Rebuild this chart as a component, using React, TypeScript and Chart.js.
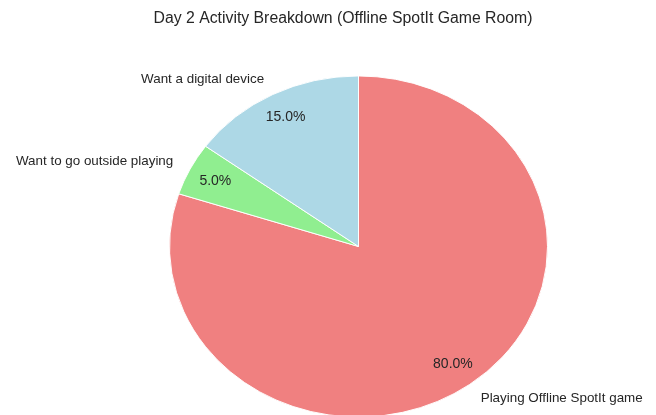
import React, { useEffect, useRef } from "react";
import { Chart, registerables } from "chart.js";

Chart.register(...registerables);

const titleText = "Day 2 Activity Breakdown (Offline SpotIt Game Room)";
// Clockwise from 12 o'clock (Chart.js direction)
const categories = [
  "Playing Offline SpotIt game",
  "Want to go outside playing",
  "Want a digital device",
];
const values = [80, 5, 15];
const colors = ["#F08080", "#90EE90", "#ADD8E6"];

const Y_SCALE = 171 / 189.5;
const PCT_DIST = 0.85;
const LABEL_DIST = 1.1;
const TEXT_COLOR = "#262626";
const FONT = '"Liberation Sans", Arial, sans-serif';

const ellipsePlugin = {
  id: "ellipse",
  beforeDatasetsDraw(chart: any) {
    const arc = chart.getDatasetMeta(0).data[0];
    if (!arc) return;
    const ctx = chart.ctx;
    ctx.save();
    ctx.translate(arc.x, arc.y);
    ctx.scale(1, Y_SCALE);
    ctx.translate(-arc.x, -arc.y);
  },
  afterDatasetsDraw(chart: any) {
    chart.ctx.restore();
  },
};

const labelPlugin = {
  id: "pieLabels",
  afterDraw(chart: any) {
    const ctx = chart.ctx;
    const meta = chart.getDatasetMeta(0);
    const total = values.reduce((a, b) => a + b, 0);
    ctx.save();
    ctx.fillStyle = TEXT_COLOR;
    ctx.textBaseline = "middle";
    meta.data.forEach((arc: any, i: number) => {
      const { x, y, startAngle, endAngle, outerRadius } = arc.getProps(
        ["x", "y", "startAngle", "endAngle", "outerRadius"],
        true
      );
      const mid = (startAngle + endAngle) / 2;
      const c = Math.cos(mid);
      const s = Math.sin(mid);
      // percentage
      ctx.font = `14px ${FONT}`;
      ctx.textAlign = "center";
      const pct = ((values[i] / total) * 100).toFixed(1) + "%";
      ctx.fillText(pct, x + c * outerRadius * PCT_DIST, y + s * outerRadius * PCT_DIST * Y_SCALE);
      // category label
      ctx.font = `13.4px ${FONT}`;
      ctx.textAlign = c >= 0 ? "left" : "right";
      ctx.fillText(
        categories[i],
        x + c * outerRadius * LABEL_DIST,
        y + s * outerRadius * LABEL_DIST * Y_SCALE
      );
    });
    // title
    ctx.font = `15.8px ${FONT}`;
    ctx.textAlign = "center";
    ctx.fillText(titleText, 343, 19);
    ctx.restore();
  },
};

export default function App() {
  const ref = useRef<HTMLCanvasElement>(null);
  useEffect(() => {
    document.body.style.margin = "0";
    const chart = new Chart(ref.current!, {
      type: "pie",
      data: {
        labels: categories,
        datasets: [
          {
            data: values,
            backgroundColor: colors,
            borderColor: "#ffffff",
            borderWidth: 1,
          },
        ],
      },
      options: {
        animation: false,
        responsive: false,
        events: [],
        layout: { padding: { left: 169, right: 108, top: 57, bottom: 24 } },
        plugins: {
          legend: { display: false },
          tooltip: { enabled: false },
          title: { display: false },
        },
      },
      plugins: [ellipsePlugin, labelPlugin],
    });
    return () => chart.destroy();
  }, []);
  return (
    <div style={{ width: 656, height: 415, overflow: "hidden", background: "#fff" }}>
      <canvas ref={ref} width={656} height={460} style={{ display: "block" }} />
    </div>
  );
}
